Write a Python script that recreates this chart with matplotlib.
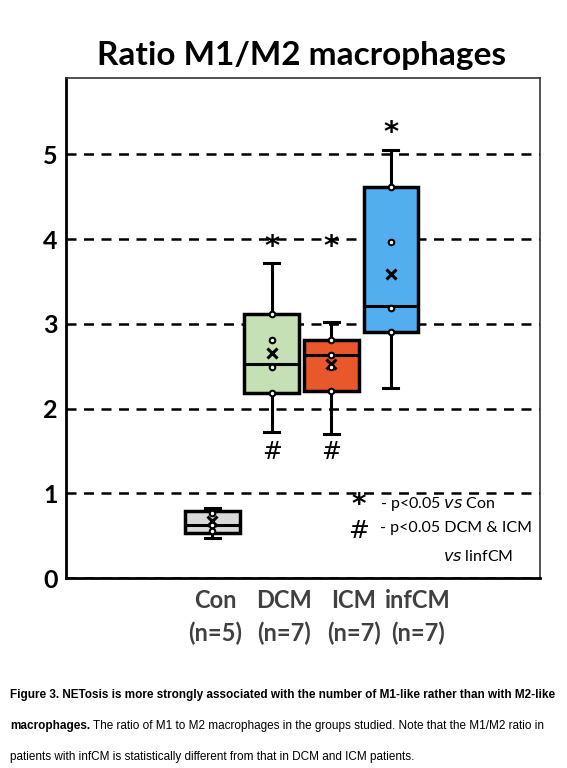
import matplotlib
matplotlib.use("Agg")
import matplotlib.pyplot as plt

# group labels and box statistics
groups = ["Con\n(n=5)", "DCM\n(n=7)", "ICM\n(n=7)", "infCM\n(n=7)"]
q1 = [0.53, 2.18, 2.21, 2.90]
median = [0.62, 2.52, 2.63, 3.21]
q3 = [0.79, 3.12, 2.81, 4.61]
whis_lo = [0.47, 1.72, 1.70, 2.24]
whis_hi = [0.83, 3.72, 3.02, 5.05]
means = [0.67, 2.65, 2.52, 3.59]
points = [
    [0.77, 0.62, 0.55],
    [3.12, 2.81, 2.49, 2.18],
    [2.81, 2.63, 2.49, 2.21],
    [4.61, 3.97, 3.19, 2.90],
]
colors = ["#d9d9d9", "#c5e0b4", "#e9582b", "#52aeef"]
star_y = [None, 3.90, 3.90, 5.25]
hash_y = [None, 1.49, 1.49, None]

positions = [1, 2, 3, 4]
# the group labels in the original sit a bit wider apart than the boxes
label_pos = [1.05, 2.21, 3.38, 4.45]

fig = plt.figure(figsize=(5.67, 7.68), dpi=100)
ax = fig.add_axes([66 / 567, 1 - 578 / 768, (540 - 66) / 567, (578 - 78) / 768])

# dashed grid lines
for yv in [0, 1, 2, 3, 4, 5]:
    ax.axhline(yv, color="black", lw=1.8, ls=(0, (4, 3)), zorder=1)

stats = []
for i in range(len(groups)):
    stats.append({"q1": q1[i], "med": median[i], "q3": q3[i],
                  "whislo": whis_lo[i], "whishi": whis_hi[i],
                  "mean": means[i], "fliers": []})

bp = ax.bxp(stats, positions=positions, widths=0.92, patch_artist=True,
            showmeans=True, showfliers=False, capwidths=0.25,
            boxprops=dict(lw=2.5, edgecolor="black"),
            medianprops=dict(color="black", lw=2.2),
            whiskerprops=dict(color="black", lw=2.2),
            capprops=dict(color="black", lw=2.2),
            meanprops=dict(marker="x", markeredgecolor="black", markersize=7,
                           markeredgewidth=2.2))
for patch, c in zip(bp["boxes"], colors):
    patch.set_facecolor(c)
    patch.set_zorder(2)

for x, pts in zip(positions, points):
    ax.scatter([x] * len(pts), pts, s=16, facecolor="white", edgecolor="black",
               linewidth=1.5, zorder=4)

for x, yv in zip(positions, star_y):
    if yv is not None:
        ax.text(x, yv, "*", ha="center", va="center", fontsize=21,
                fontweight="bold", family="DejaVu Sans")
for x, yv in zip(positions, hash_y):
    if yv is not None:
        ax.text(x, yv, "#", ha="center", va="center", fontsize=17,
                family="DejaVu Sans")

# significance legend
ax.text(3.46, 0.86, "*", ha="center", va="center", fontsize=20,
        fontweight="bold", family="DejaVu Sans")
ax.text(3.82, 0.87, "- p<0.05 $\\it{vs}$ Con", ha="left", va="center",
        fontsize=11.5, family="Lato")
ax.text(3.46, 0.55, "#", ha="center", va="center", fontsize=18,
        family="DejaVu Sans")
ax.text(3.82, 0.59, "- p<0.05 DCM & ICM", ha="left", va="center",
        fontsize=11.5, family="Lato")
ax.text(6.05, 0.25, "$\\it{vs}$ linfCM", ha="right", va="center",
        fontsize=11.5, family="Lato")

ax.set_xlim(-1.45, 6.5)
ax.set_ylim(0, 5.9)
ax.set_yticks([0, 1, 2, 3, 4, 5])
ax.set_yticklabels(["0", "1", "2", "3", "4", "5"], fontsize=18,
                   fontweight="bold", family="Lato")
ax.set_xticks(label_pos)
ax.set_xticklabels(groups, fontsize=17, fontweight="bold", family="Lato",
                   color="#404040", linespacing=1.5)
ax.tick_params(axis="both", length=0, pad=6)
ax.tick_params(axis="x", pad=8)

for side in ["top", "right"]:
    ax.spines[side].set_linewidth(1.2)
    ax.spines[side].set_color("#333333")
for side in ["left", "bottom"]:
    ax.spines[side].set_linewidth(2)

fig.text(302 / 567, 1 - 56 / 768, "Ratio M1/M2 macrophages", ha="center",
         va="center", fontsize=24, fontweight="bold", family="Lato")

# caption
cap_kw = dict(fontsize=8.5, family="Liberation Sans", va="center")
fig.text(10 / 567, 1 - 695 / 768,
         "Figure 3. NETosis is more strongly associated with the number of M1-like rather than with M2-like",
         fontweight="bold", **cap_kw)
t1 = fig.text(10 / 567, 1 - 726 / 768, "macrophages.", fontweight="bold", **cap_kw)
fig.canvas.draw()
bb = t1.get_window_extent()
fig.text(bb.x1 / fig.bbox.width + 3 / 567, 1 - 726 / 768,
         "The ratio of M1 to M2 macrophages in the groups studied. Note that the M1/M2 ratio in",
         **cap_kw)
fig.text(10 / 567, 1 - 757 / 768,
         "patients with infCM is statistically different from that in DCM and ICM patients.",
         **cap_kw)

fig.savefig("out.png", dpi=100)
